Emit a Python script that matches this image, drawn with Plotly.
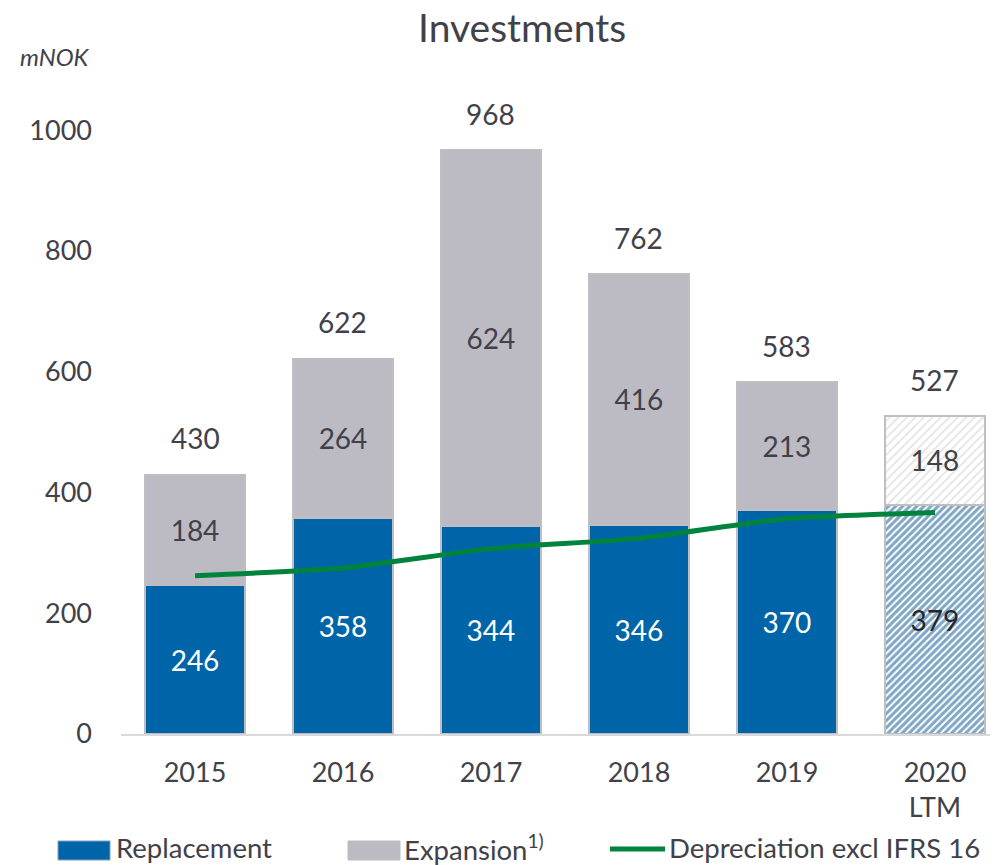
import plotly.graph_objects as go

years = ["2015", "2016", "2017", "2018", "2019", "2020<br>LTM"]
replacement = [246, 358, 344, 346, 370, 379]
expansion = [184, 264, 624, 416, 213, 148]
totals = [430, 622, 968, 762, 583, 527]
depreciation = [262, 275, 307, 324, 357, 367]

BLUE = "#0065A8"
GREY = "#BCBBC4"
GREEN = "#00843D"
TXT = "#41414A"
FONT = "Lato"
OUT = dict(color="#BFBFBF", width=1.5)
LBL = 28

fig = go.Figure()

fig.add_trace(go.Bar(
    x=years[:5], y=replacement[:5], name="Replacement",
    marker=dict(color=BLUE, line=OUT), width=0.676,
    text=replacement[:5], textposition="inside", insidetextanchor="middle",
    textfont=dict(color="white", size=LBL, family=FONT),
))
fig.add_trace(go.Bar(
    x=years[5:], y=replacement[5:], name="Replacement",
    marker=dict(color="white", line=OUT,
                pattern=dict(shape="/", fgcolor="#004E8C", bgcolor="white", size=5, solidity=0.6)),
    width=0.676,
    text=replacement[5:], textposition="inside", insidetextanchor="middle",
    textfont=dict(color="#262626", size=LBL, family=FONT),
))
fig.add_trace(go.Bar(
    x=years[:5], y=expansion[:5], name="Expansion",
    marker=dict(color=GREY, line=OUT), width=0.676,
    text=expansion[:5], textposition="inside", insidetextanchor="middle",
    textfont=dict(color=TXT, size=LBL, family=FONT),
))
fig.add_trace(go.Bar(
    x=years[5:], y=expansion[5:], name="Expansion",
    marker=dict(color="white", line=OUT,
                pattern=dict(shape="/", fgcolor="#C8C8C8", bgcolor="white", size=6, solidity=0.3)),
    width=0.676,
    text=expansion[5:], textposition="inside", insidetextanchor="middle",
    textfont=dict(color=TXT, size=LBL, family=FONT),
))
fig.add_trace(go.Scatter(
    x=years, y=depreciation, mode="lines", name="Depreciation excl IFRS 16",
    line=dict(color=GREEN, width=5, shape="spline", smoothing=0.5),
))

for i, t in enumerate(totals):
    fig.add_annotation(x=i, y=t, text=str(t), showarrow=False, yshift=36,
                       yanchor="middle", font=dict(size=LBL, color=TXT, family=FONT))

fig.add_annotation(xref="paper", yref="paper", x=-0.075, y=1.068, text="<i>mNOK</i>",
                   showarrow=False, xanchor="center", yanchor="middle",
                   font=dict(size=24, color=TXT, family=FONT))

# title as a paper annotation (page pixel y ~ 27)
fig.add_annotation(xref="paper", yref="paper", x=(522 - 121) / 877, y=(734 - 27) / 634,
                   text="Investments", showarrow=False, xanchor="center", yanchor="middle",
                   font=dict(size=39, color=TXT, family=FONT))

# custom legend (paper coordinates, from page pixels)
def px_x(p):
    return (p - 121) / 877

def px_y(p):
    return (734 - p) / 634

leg_y = px_y(847)
LEGF = 27.5
fig.add_shape(type="rect", xref="paper", yref="paper", x0=px_x(58), x1=px_x(110),
              y0=px_y(841), y1=px_y(860), fillcolor=BLUE, line=dict(color="#7F9FBF", width=1))
fig.add_annotation(xref="paper", yref="paper", x=px_x(114), y=leg_y, text="Replacement",
                   showarrow=False, xanchor="left", yanchor="middle",
                   font=dict(size=LEGF, color=TXT, family=FONT))
fig.add_shape(type="rect", xref="paper", yref="paper", x0=px_x(348), x1=px_x(400),
              y0=px_y(841), y1=px_y(860), fillcolor=GREY, line=dict(color=GREY, width=1))
fig.add_annotation(xref="paper", yref="paper", x=px_x(402), y=leg_y, text="Expansion<sup>1)</sup>",
                   showarrow=False, xanchor="left", yanchor="middle",
                   font=dict(size=LEGF, color=TXT, family=FONT))
fig.add_shape(type="line", xref="paper", yref="paper", x0=px_x(610), x1=px_x(665),
              y0=px_y(849), y1=px_y(849), line=dict(color=GREEN, width=5))
fig.add_annotation(xref="paper", yref="paper", x=px_x(667), y=leg_y, text="Depreciation excl IFRS 16",
                   showarrow=False, xanchor="left", yanchor="middle",
                   font=dict(size=LEGF, color=TXT, family=FONT))

fig.update_layout(
    width=990, height=857,
    barmode="stack",
    plot_bgcolor="white", paper_bgcolor="white",
    font=dict(family=FONT, color=TXT, size=26),
    margin=dict(l=113, r=0, t=92, b=131, autoexpand=False),
    showlegend=False,
    uniformtext=dict(mode=False),
)
fig.update_xaxes(type="category", range=[-0.5, 5.426], showline=True, linecolor="#D9D9D9",
                 linewidth=1.5, ticks="", tickfont=dict(size=27, color=TXT, family=FONT),
                 showgrid=False, ticklabelstandoff=14)
fig.update_yaxes(range=[0, 1050], tickvals=[0, 200, 400, 600, 800, 1000], showgrid=False,
                 zeroline=False, showline=False, ticks="", ticklabelstandoff=28,
                 tickfont=dict(size=27, color=TXT, family=FONT))

fig.write_html("out.html")
